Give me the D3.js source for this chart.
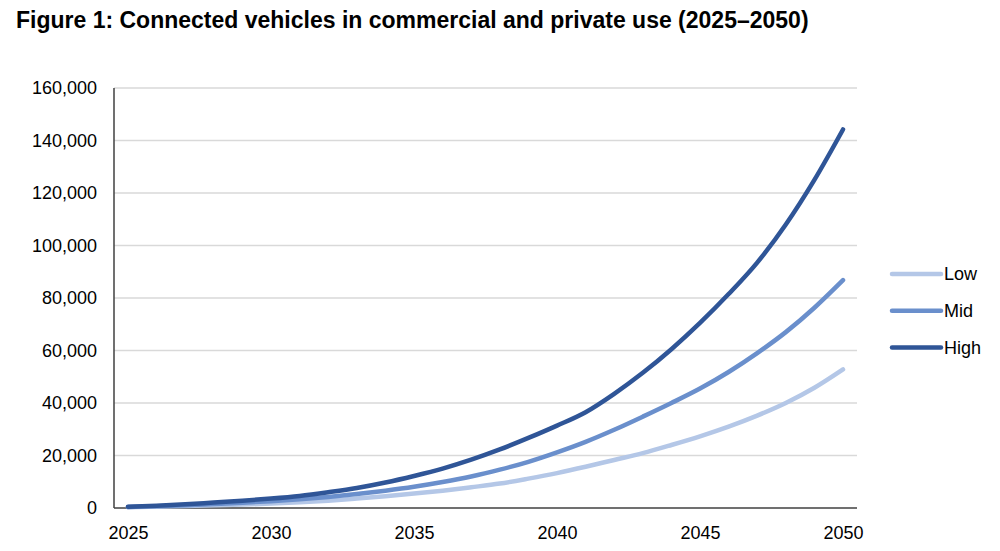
<!DOCTYPE html>
<html>
<head>
<meta charset="utf-8">
<script src="https://cdn.jsdelivr.net/npm/d3@7"></script>
<style>
  body { margin: 0; background: #fff; }
  svg { font-family: "Liberation Sans", Arial, sans-serif; }
</style>
</head>
<body>
<svg id="chart" width="1000" height="551"></svg>
<script>
// yearly values
const years = d3.range(2025, 2051);
const low = [300, 500, 750, 1000, 1300, 1700, 2200, 2800, 3600, 4500, 5500, 6600, 7900, 9300, 11200, 13300,
    15700, 18300, 20900, 24000, 27300, 31000, 35200, 40000, 45800, 52800];
const mid = [400, 700, 1000, 1500, 2000, 2600, 3300, 4200, 5300, 6600, 8100, 9900, 12000, 14600, 17600, 21200,
    25200, 29800, 34800, 40000, 45500, 51800, 59000, 67000, 76300, 86800];
const high = [500, 900, 1400, 2100, 2800, 3600, 4600, 6000, 7600, 9700, 12200, 15000, 18400, 22300, 26700, 31400,
    36500, 43500, 51500, 60500, 70500, 81500, 93500, 108000, 125000, 144200];
const seriesNames = ['Low', 'Mid', 'High'];
const yTicks = [0, 20000, 40000, 60000, 80000, 100000, 120000, 140000, 160000];
const xTicks = [2025, 2030, 2035, 2040, 2045, 2050];

const colors = {Low: '#b4c7e7', Mid: '#6a8fcc', High: '#2f5597'};
const series = [
    {name: 'Low', values: low},
    {name: 'Mid', values: mid},
    {name: 'High', values: high}
];

const svg = d3.select('#chart');
const plot = {left: 114, right: 857, top: 88, bottom: 508};

const x = d3.scaleLinear().domain([2025, 2050]).range([128, 843]);
const y = d3.scaleLinear().domain([0, 160000]).range([plot.bottom, plot.top]);

// title
svg.append('text')
    .attr('x', 16)
    .attr('y', 28)
    .attr('font-size', 23)
    .attr('font-weight', 'bold')
    .attr('fill', '#000')
    .text('Figure 1: Connected vehicles in commercial and private use (2025\u20132050)');

// gridlines
svg.append('g')
    .selectAll('line')
    .data(yTicks.filter(d => d > 0))
    .join('line')
    .attr('x1', plot.left)
    .attr('x2', plot.right)
    .attr('y1', d => y(d))
    .attr('y2', d => y(d))
    .attr('stroke', '#d9d9d9')
    .attr('stroke-width', 1.5);

// y axis labels
const yAxis = d3.axisLeft(y)
    .tickValues(yTicks)
    .tickSize(0)
    .tickPadding(17)
    .tickFormat(d3.format(','));
const gy = svg.append('g')
    .attr('transform', `translate(${plot.left},0)`)
    .call(yAxis);
gy.select('.domain').remove();
gy.selectAll('text')
    .attr('font-size', 18)
    .attr('font-family', '"Liberation Sans", Arial, sans-serif')
    .attr('fill', '#000');

// x axis labels
const xAxis = d3.axisBottom(x)
    .tickValues(xTicks)
    .tickSize(0)
    .tickPadding(18.5)
    .tickFormat(d3.format('d'));
const gx = svg.append('g')
    .attr('transform', `translate(0,${plot.bottom})`)
    .call(xAxis);
gx.select('.domain').remove();
gx.selectAll('text')
    .attr('font-size', 18)
    .attr('font-family', '"Liberation Sans", Arial, sans-serif')
    .attr('fill', '#000');

// axis lines
svg.append('line')
    .attr('x1', plot.left).attr('x2', plot.left)
    .attr('y1', plot.top).attr('y2', plot.bottom)
    .attr('stroke', '#404040').attr('stroke-width', 1.5);
svg.append('line')
    .attr('x1', plot.left).attr('x2', plot.right)
    .attr('y1', plot.bottom).attr('y2', plot.bottom)
    .attr('stroke', '#404040').attr('stroke-width', 1.5);

// lines
const line = d3.line()
    .x((d, i) => x(years[i]))
    .y(d => y(d))
    .curve(d3.curveMonotoneX);

svg.append('g')
    .selectAll('path')
    .data(series)
    .join('path')
    .attr('d', d => line(d.values))
    .attr('fill', 'none')
    .attr('stroke', d => colors[d.name])
    .attr('stroke-width', 4.5)
    .attr('stroke-linecap', 'round')
    .attr('stroke-linejoin', 'round');

// legend
const legend = svg.append('g')
    .selectAll('g')
    .data(seriesNames)
    .join('g')
    .attr('transform', (d, i) => `translate(892,${274 + i * 36.7})`);
legend.append('line')
    .attr('x1', 0).attr('x2', 49)
    .attr('stroke', d => colors[d])
    .attr('stroke-width', 4.5)
    .attr('stroke-linecap', 'round');
legend.append('text')
    .attr('x', 52)
    .attr('dy', '0.35em')
    .attr('font-size', 18)
    .attr('fill', '#000')
    .text(d => d);
</script>
</body>
</html>
